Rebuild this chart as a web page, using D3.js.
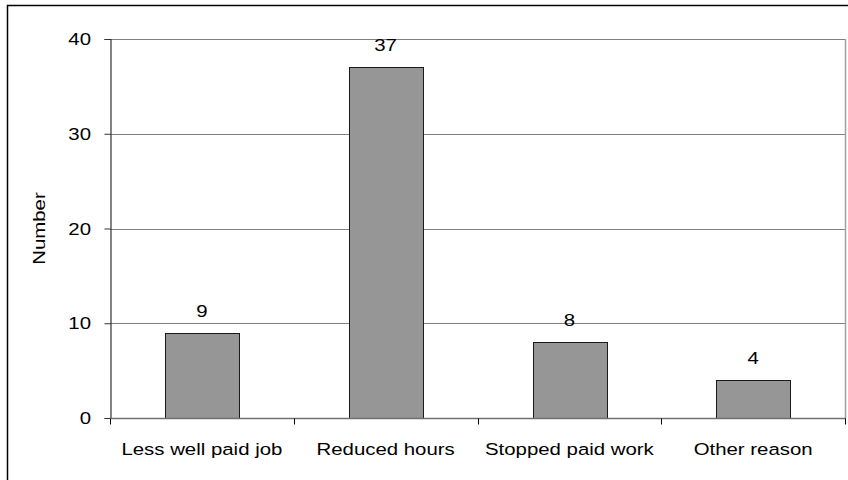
<!DOCTYPE html>
<html>
<head>
<meta charset="utf-8">
<script src="https://cdn.jsdelivr.net/npm/d3@7"></script>
<style>
  body { margin: 0; background: #fff; }
  text { font-family: "Liberation Sans", Arial, sans-serif; }
</style>
</head>
<body>
<div id="chart"></div>
<script>
// data
const categories = ['Less well paid job', 'Reduced hours', 'Stopped paid work', 'Other reason'];
const values = [9, 37, 8, 4];
const yTicks = [0, 10, 20, 30, 40];

const width = 848; const height = 480;
const plot = {left: 110, right: 845, top: 39, bottom: 418};
// the text in the picture is a bit wider than plain Arial
const stretch = 1.2;
const fontSize = 17;

const svg = d3.select('#chart')
    .append('svg')
        .attr('width', width)
        .attr('height', height);

// outer frame
svg.append('rect')
    .attr('x', 7.5).attr('y', 5.5)
    .attr('width', 850).attr('height', 500)
    .attr('fill', 'none')
    .attr('stroke', '#000')
    .attr('stroke-width', 1.5);

const xScale = d3.scaleBand()
    .domain(categories)
    .range([plot.left, plot.right])
    .paddingInner(0.6)
    .paddingOuter(0.3);

const yScale = d3.scaleLinear()
    .domain([0, 40])
    .range([plot.bottom, plot.top]);

// gridlines
svg.append('g')
    .selectAll('line')
    .data(yTicks.filter(d => d > 0))
    .enter()
    .append('line')
        .attr('x1', plot.left)
        .attr('x2', plot.right)
        .attr('y1', d => Math.round(yScale(d)) + 0.5)
        .attr('y2', d => Math.round(yScale(d)) + 0.5)
        .attr('stroke', '#808080')
        .attr('stroke-width', 1);

// plot area right edge
svg.append('line')
    .attr('x1', plot.right + 0.5).attr('x2', plot.right + 0.5)
    .attr('y1', plot.top).attr('y2', plot.bottom)
    .attr('stroke', '#a0a0a0')
    .attr('stroke-width', 1.5);

// bars
svg.append('g')
    .selectAll('rect')
    .data(values)
    .enter()
    .append('rect')
        .attr('x', (d, i) => Math.round(xScale(categories[i])) + 0.5)
        .attr('y', d => Math.round(yScale(d)) + 0.5)
        .attr('width', Math.round(xScale.bandwidth()))
        .attr('height', d => plot.bottom - Math.round(yScale(d)))
        .attr('fill', '#969696')
        .attr('stroke', '#1a1a1a')
        .attr('stroke-width', 1);

// value labels
svg.append('g')
    .selectAll('text')
    .data(values)
    .enter()
    .append('text')
        .attr('transform', (d, i) =>
            `translate(${xScale(categories[i]) + xScale.bandwidth() / 2}, ${yScale(d) - 16}) scale(${stretch}, 1)`)
        .attr('text-anchor', 'middle')
        .attr('font-size', fontSize)
        .attr('fill', '#000')
        .text(d => d);

// y axis
const yAxis = d3.axisLeft(yScale)
    .tickValues(yTicks)
    .tickSize(6)
    .tickFormat('');
const yAxisG = svg.append('g')
    .attr('transform', `translate(${plot.left + 0.5}, 0)`)
    .call(yAxis);
yAxisG.select('.domain').attr('stroke', '#333').attr('stroke-width', 1.2);
yAxisG.selectAll('.tick line').attr('stroke', '#333');
svg.append('g')
    .selectAll('text')
    .data(yTicks)
    .enter()
    .append('text')
        .attr('transform', d => `translate(91, ${yScale(d) + 6}) scale(${stretch}, 1)`)
        .attr('text-anchor', 'end')
        .attr('font-size', fontSize)
        .attr('fill', '#000')
        .text(d => d);

// x axis
const xAxisG = svg.append('g')
    .attr('transform', `translate(0, ${plot.bottom + 0.5})`);
xAxisG.append('line')
    .attr('x1', plot.left).attr('x2', plot.right + 1)
    .attr('y1', 0).attr('y2', 0)
    .attr('stroke', '#707070')
    .attr('stroke-width', 1.6);
const bounds = categories.map(c => xScale(c) - xScale.step() * xScale.paddingInner() / 2);
bounds.push(plot.right);
xAxisG.selectAll('.xtick')
    .data(bounds)
    .enter()
    .append('line')
        .attr('class', 'xtick')
        .attr('x1', d => Math.round(d) + 0.5)
        .attr('x2', d => Math.round(d) + 0.5)
        .attr('y1', 0).attr('y2', 6)
        .attr('stroke', '#000');
xAxisG.selectAll('.xlabel')
    .data(categories)
    .enter()
    .append('text')
        .attr('class', 'xlabel')
        .attr('transform', d => `translate(${xScale(d) + xScale.bandwidth() / 2}, 36) scale(${stretch}, 1)`)
        .attr('text-anchor', 'middle')
        .attr('font-size', fontSize)
        .attr('fill', '#000')
        .text(d => d);

// y axis title
svg.append('text')
    .attr('transform', `translate(45, ${(plot.top + plot.bottom) / 2}) rotate(-90) scale(${stretch}, 1)`)
    .attr('text-anchor', 'middle')
    .attr('font-size', fontSize)
    .attr('fill', '#000')
    .text('Number');
</script>
</body>
</html>
